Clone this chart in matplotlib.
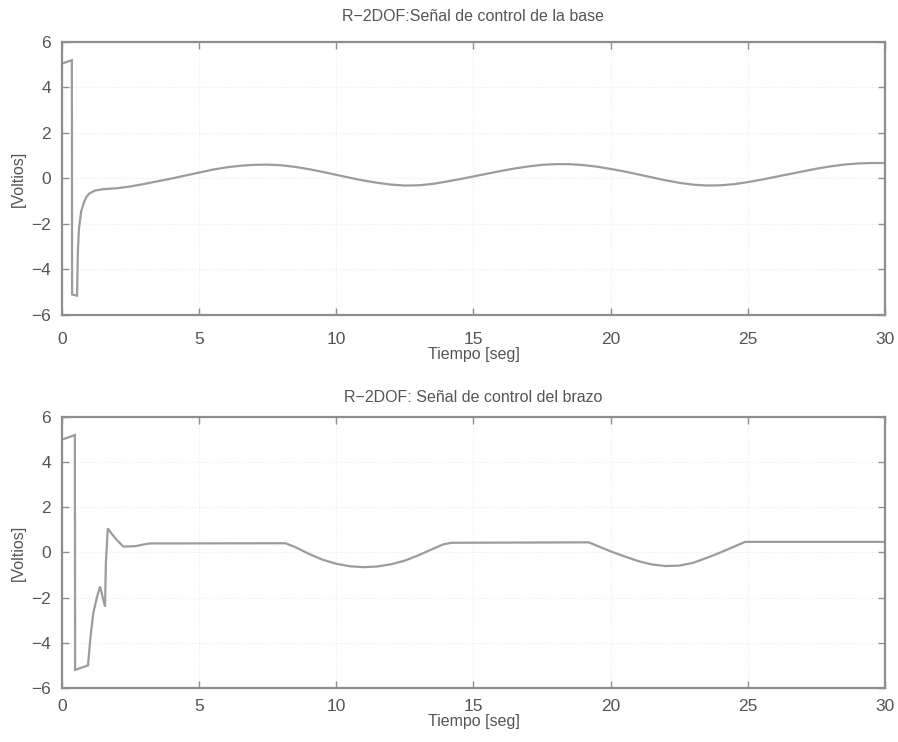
import matplotlib
matplotlib.use("Agg")
import matplotlib.pyplot as plt

plt.rcParams['font.family'] = ['Liberation Sans', 'DejaVu Sans']

# Base control signal (time [s], voltage [V])
t_base = [0.0, 0.36, 0.37, 0.55, 0.58, 0.62, 0.70, 0.80, 0.90, 1.00, 1.20,
          1.5, 2.0, 2.5, 3.0, 3.5, 4.0, 4.5, 5.0, 5.5, 6.0, 6.5, 7.0, 7.5,
          8.0, 8.5, 9.0, 9.5, 10.0, 10.5, 11.0, 11.5, 12.0, 12.5, 13.0,
          13.5, 14.0, 14.5, 15.0, 15.5, 16.0, 16.5, 17.0, 17.5, 18.0, 18.5,
          19.0, 19.5, 20.0, 20.5, 21.0, 21.5, 22.0, 22.5, 23.0, 23.5, 24.0,
          24.5, 25.0, 25.5, 26.0, 26.5, 27.0, 27.5, 28.0, 28.5, 29.0, 29.5,
          30.0]
u_base = [5.05, 5.20, -5.10, -5.15, -3.20, -2.20, -1.45, -1.05, -0.80, -0.66,
          -0.53, -0.47, -0.43, -0.35, -0.24, -0.12, 0.00, 0.13, 0.26, 0.39,
          0.49, 0.56, 0.60, 0.61, 0.58, 0.51, 0.41, 0.29, 0.16, 0.03, -0.09,
          -0.19, -0.27, -0.31, -0.30, -0.24, -0.14, -0.03, 0.09, 0.21, 0.33,
          0.44, 0.53, 0.60, 0.63, 0.63, 0.59, 0.52, 0.42, 0.31, 0.18, 0.05,
          -0.08, -0.19, -0.27, -0.31, -0.30, -0.25, -0.16, -0.05, 0.07, 0.19,
          0.31, 0.43, 0.53, 0.61, 0.66, 0.68, 0.68]

# Arm control signal (time [s], voltage [V])
t_arm = [0.0, 0.47, 0.48, 0.95, 1.03, 1.14, 1.28, 1.39, 1.57, 1.60, 1.67,
         1.80, 2.00, 2.24, 2.67, 3.04, 3.20, 8.15, 8.5, 9.0, 9.5, 10.0, 10.5,
         11.0, 11.5, 12.0, 12.5, 13.0, 13.5, 13.9, 14.2, 19.2, 19.5, 20.0,
         20.5, 21.0, 21.5, 22.0, 22.5, 23.0, 23.5, 24.0, 24.5, 24.9, 30.0]
u_arm = [5.00, 5.20, -5.20, -5.00, -3.87, -2.69, -1.95, -1.51, -2.40, -0.50,
         1.07, 0.85, 0.55, 0.26, 0.28, 0.37, 0.40, 0.41, 0.24, -0.06, -0.32,
         -0.50, -0.61, -0.65, -0.62, -0.52, -0.36, -0.12, 0.15, 0.36, 0.43,
         0.45, 0.30, 0.05, -0.17, -0.38, -0.53, -0.60, -0.58, -0.46, -0.24,
         0.00, 0.26, 0.47, 0.47]

titles = ["R\u22122DOF:Señal de control de la base",
          "R\u22122DOF: Señal de control del brazo"]
xlabel = "Tiempo [seg]"
ylabel = "[Voltios]"
xticks = [0, 5, 10, 15, 20, 25, 30]
yticks = [-6, -4, -2, 0, 2, 4, 6]

line_col = "#9c9c9c"
frame_col = "#8e8e8e"
text_col = "#555555"

fig = plt.figure(figsize=(8.98, 7.42), dpi=100)
ax1 = fig.add_axes([0.069, 0.5755, 0.9165, 0.3679])
ax2 = fig.add_axes([0.069, 0.0728, 0.9165, 0.3652])

for ax, t, u, title, tpad, xpad in [(ax1, t_base, u_base, titles[0], 15, 12),
                                    (ax2, t_arm, u_arm, titles[1], 11, 8)]:
    ax.plot(t, u, color=line_col, lw=1.6, solid_joinstyle="miter")
    ax.set_xlim(0, 30)
    ax.set_ylim(-6, 6)
    ax.set_xticks(xticks)
    ax.set_yticks(yticks)
    ax.set_yticklabels([str(v).replace("-", "\u2212") for v in yticks])
    ax.tick_params(direction="in", length=5, width=1.0, colors=frame_col,
                   labelcolor=text_col, labelsize=12.5, top=True, right=True)
    ax.tick_params(axis="x", pad=xpad)
    ax.tick_params(axis="y", pad=8)
    for s in ax.spines.values():
        s.set_color(frame_col)
        s.set_linewidth(1.6)
    ax.grid(True, color="#ececec", linestyle=":", linewidth=0.8)
    ax.set_title(title, fontsize=11.5, color=text_col, pad=tpad)
    ax.set_xlabel(xlabel, fontsize=11.5, color=text_col, labelpad=0)
    ax.set_ylabel(ylabel, fontsize=11.5, color=text_col, labelpad=4)

fig.savefig("out.png", dpi=100, facecolor="white")
